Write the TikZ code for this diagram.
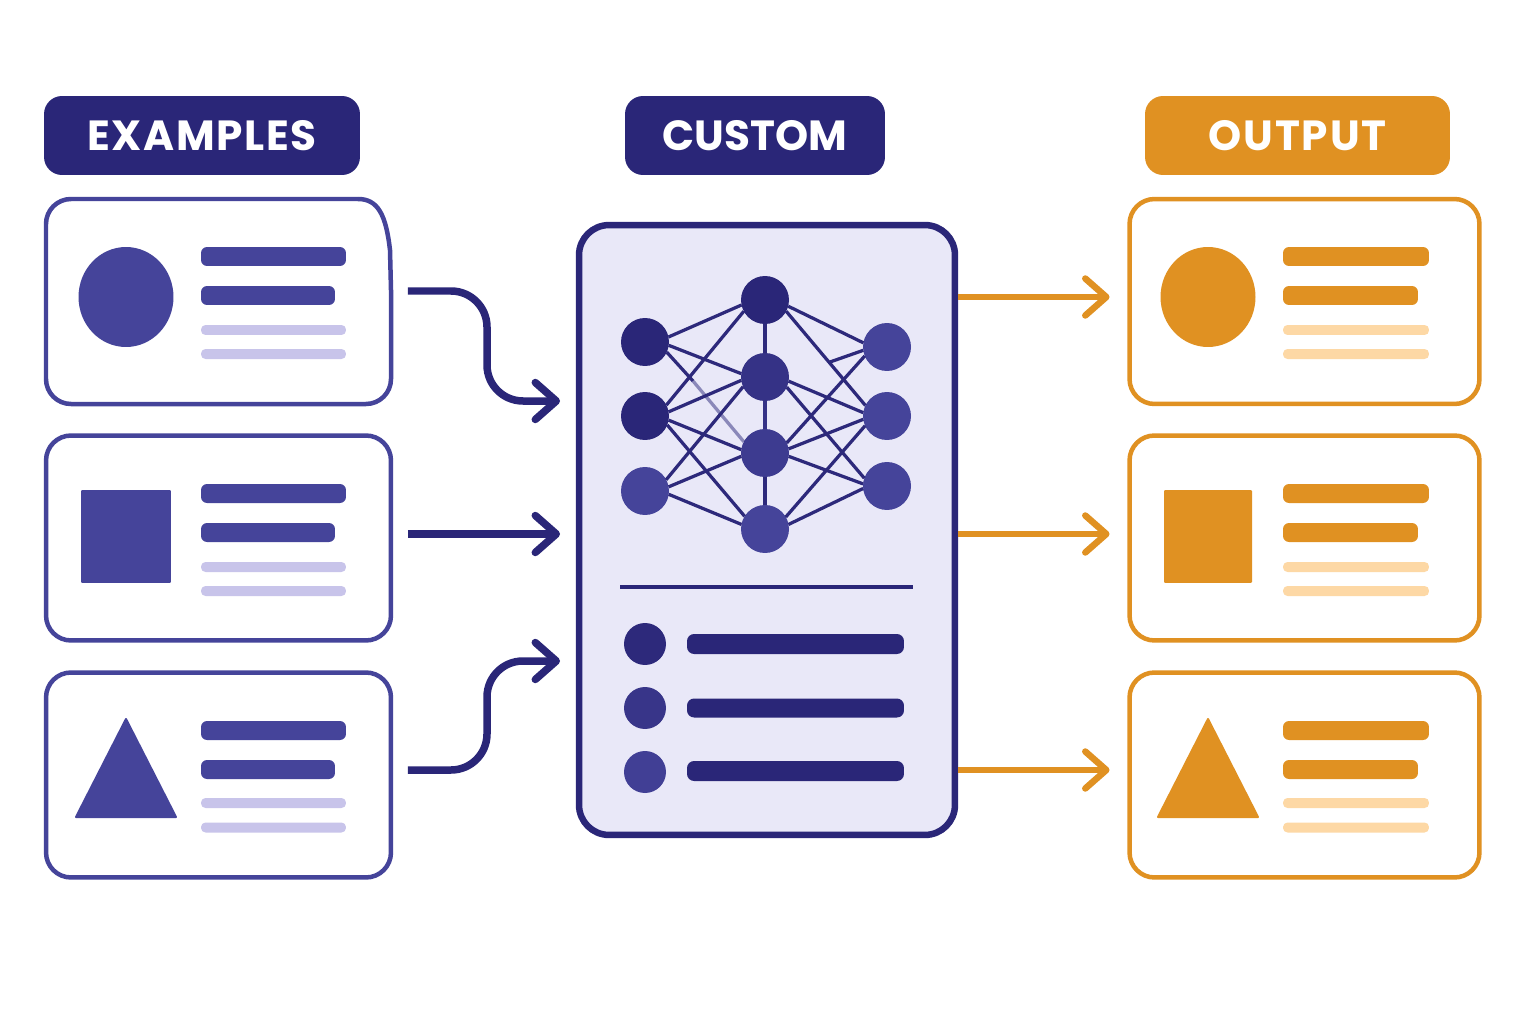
\documentclass[tikz,border=0pt]{standalone}
\usepackage{fontspec}
\setmainfont{Poppins}
\usetikzlibrary{arrows.meta,shapes.geometric}
\definecolor{navy}{HTML}{2A2678}
\definecolor{indigo}{HTML}{45449A}
\definecolor{lilac}{HTML}{C8C4EA}
\definecolor{amber}{HTML}{E09122}
\definecolor{peach}{HTML}{FDD8A5}
\definecolor{panelbg}{HTML}{E9E8F8}
\begin{document}
\begin{tikzpicture}[
        x=0.02cm, y=-0.02cm,
        pill/.style={
            rectangle,
            fill=#1,
            rounded corners=0.36cm,
            minimum height=1.58cm,
            inner sep=0pt,
            text=white,
            font=\fontsize{24}{24}\selectfont\bfseries
        },
        card/.style={
            rectangle,
            draw=#1,
            fill=white,
            line width=0.09cm,
            rounded corners=0.5cm,
            minimum height=4.1cm,
            inner sep=0pt,
            outer sep=0pt
        },
        bar/.style={
            rectangle,
            fill=#1,
            rounded corners=0.12cm,
            minimum height=0.38cm,
            inner sep=0pt
        },
        thinbar/.style={
            rectangle,
            fill=#1,
            rounded corners=0.09cm,
            minimum height=0.2cm,
            inner sep=0pt
        },
        blob/.style={
            ellipse,
            fill=#1,
            minimum width=1.9cm,
            minimum height=2cm,
            inner sep=0pt
        },
        block/.style={
            rectangle,
            fill=#1,
            rounded corners=0.02cm,
            minimum width=1.8cm,
            minimum height=1.86cm,
            inner sep=0pt
        },
        neuron/.style={
            circle,
            fill=#1,
            minimum size=0.96cm,
            inner sep=0pt,
            outer sep=0pt
        },
        dot/.style={
            circle,
            fill=#1,
            minimum size=0.84cm,
            inner sep=0pt
        },
        link/.style={
            draw=navy!90!indigo,
            line width=0.065cm
        },
        flow/.style={
            draw=#1,
            line width=0.15cm,
            line join=round,
            rounded corners=0.72cm,
            -{Straight Barb[round,length=0.42cm,width=0.74cm]}
        }
    ]

    \useasboundingbox (0,0) rectangle (1536,1024);
    \fill[white] (0,0) rectangle (1536,1024);

    % headers
    \node[pill=navy, minimum width=6.32cm] (hExamples) at (202,135.5) {\addfontfeature{LetterSpace=4}EXAMPLES};
    \node[pill=navy, minimum width=5.2cm] (hCustom) at (755,135.5) {CUSTOM};
    \node[pill=amber, minimum width=6.1cm] (hOutput) at (1297.5,135.5) {\addfontfeature{LetterSpace=4.5}OUTPUT};

    % example cards
    \node[card=indigo, draw=none, minimum width=6.9cm] (exA) at (218.5,301.5) {};
    \draw[indigo, line width=0.09cm, rounded corners=0.5cm]
        (358,199) -- (46,199) -- (46,404) -- (391,404) -- (391,290);
    \draw[indigo, line width=0.09cm] (358,199) .. controls (378,199) and (386,215) .. (390,250) -- (391,290);
    \node[card=indigo, minimum width=6.9cm] (exB) at (218.5,538) {};
    \node[card=indigo, minimum width=6.9cm] (exC) at (218.5,775) {};

    \node[blob=indigo] (iconA) at (126,297) {};
    \node[block=indigo] (iconB) at (126,536.5) {};
    \fill[indigo, draw=indigo, line width=0.04cm, line join=round] (126,719) -- (176,817) -- (76,817) -- cycle;

    \node[bar=indigo, minimum width=2.9cm] (exA1) at (273.5,256.5) {};
    \node[bar=indigo, minimum width=2.68cm] (exA2) at (268,295.5) {};
    \node[thinbar=lilac, minimum width=2.9cm] (exA3) at (273.5,330) {};
    \node[thinbar=lilac, minimum width=2.9cm] (exA4) at (273.5,354) {};
    \node[bar=indigo, minimum width=2.9cm] (exB1) at (273.5,493.5) {};
    \node[bar=indigo, minimum width=2.68cm] (exB2) at (268,532.5) {};
    \node[thinbar=lilac, minimum width=2.9cm] (exB3) at (273.5,567) {};
    \node[thinbar=lilac, minimum width=2.9cm] (exB4) at (273.5,591) {};
    \node[bar=indigo, minimum width=2.9cm] (exC1) at (273.5,730.5) {};
    \node[bar=indigo, minimum width=2.68cm] (exC2) at (268,769.5) {};
    \node[thinbar=lilac, minimum width=2.9cm] (exC3) at (273.5,803) {};
    \node[thinbar=lilac, minimum width=2.9cm] (exC4) at (273.5,827.5) {};

    % output cards
    \node[card=amber, minimum width=7cm] (outA) at (1304.5,301.5) {};
    \node[card=amber, minimum width=7cm] (outB) at (1304.5,538) {};
    \node[card=amber, minimum width=7cm] (outC) at (1304.5,775) {};

    \node[blob=amber] (iconD) at (1208,297) {};
    \node[block=amber, minimum width=1.76cm] (iconE) at (1208,536.5) {};
    \fill[amber, draw=amber, line width=0.04cm, line join=round] (1208,719) -- (1258,817) -- (1158,817) -- cycle;

    \node[bar=amber, minimum width=2.92cm] (outA1) at (1356,256.5) {};
    \node[bar=amber, minimum width=2.7cm] (outA2) at (1350.5,295.5) {};
    \node[thinbar=peach, minimum width=2.92cm] (outA3) at (1356,330) {};
    \node[thinbar=peach, minimum width=2.92cm] (outA4) at (1356,354) {};
    \node[bar=amber, minimum width=2.92cm] (outB1) at (1356,493.5) {};
    \node[bar=amber, minimum width=2.7cm] (outB2) at (1350.5,532.5) {};
    \node[thinbar=peach, minimum width=2.92cm] (outB3) at (1356,567) {};
    \node[thinbar=peach, minimum width=2.92cm] (outB4) at (1356,591) {};
    \node[bar=amber, minimum width=2.92cm] (outC1) at (1356,730.5) {};
    \node[bar=amber, minimum width=2.7cm] (outC2) at (1350.5,769.5) {};
    \node[thinbar=peach, minimum width=2.92cm] (outC3) at (1356,803) {};
    \node[thinbar=peach, minimum width=2.92cm] (outC4) at (1356,827.5) {};

    % centre panel
    \node[rectangle, draw=navy, fill=panelbg, line width=0.13cm, rounded corners=0.6cm,
        minimum width=7.52cm, minimum height=12.2cm, inner sep=0pt, outer sep=0pt] (panel) at (767,530) {};

    % network nodes
    \node[neuron=navy] (l1) at (645,342) {};
    \node[neuron=navy] (l2) at (645,416) {};
    \node[neuron=indigo] (l3) at (645,491) {};
    \node[neuron=navy] (m1) at (765,300) {};
    \node[neuron=navy!60!indigo] (m2) at (765,377) {};
    \node[neuron=navy!30!indigo] (m3) at (765,453) {};
    \node[neuron=indigo] (m4) at (765,529) {};
    \node[neuron=indigo] (r1) at (887,347) {};
    \node[neuron=indigo] (r2) at (887,416) {};
    \node[neuron=indigo] (r3) at (887,486) {};

    % network lines
    \coordinate (fade) at (693,381);
    \coordinate (stub) at (830,362);
    \draw[link] (l1.12) -- (m1.192);
    \draw[link] (l1.-8) -- (m2.172);
    \draw[link] (l1.-25) -- (fade);
    \draw[link, draw opacity=0.5] (fade) -- (m3.152);
    \draw[link] (l2.27) -- (m1.208);
    \draw[link] (l2.10) -- (m2.188);
    \draw[link] (l2.-10) -- (m3.172);
    \draw[link] (l2.-22) -- (m4.148);
    \draw[link] (l3.28) -- (m2.204);
    \draw[link] (l3.10) -- (m3.188);
    \draw[link] (l3.-8) -- (m4.169);
    \draw[link] (m1) -- (m2);
    \draw[link, draw=navy!60!indigo] (m2) -- (m3);
    \draw[link] (m3) -- (m4);
    \draw[link] (m1.-15) -- (r1.170);
    \draw[link] (m1.-28) -- (r2.154);
    \draw[link] (stub) -- (r1.188);
    \draw[link] (m2.-10) -- (r2.172);
    \draw[link] (m2.-25) -- (r3.161);
    \draw[link] (m3.25) -- (r1.202);
    \draw[link] (m3.10) -- (r2.188);
    \draw[link] (m3.-8) -- (r3.175);
    \draw[link] (m4.30) -- (r2.204);
    \draw[link] (m4.11) -- (r3.186);

    \node[rectangle, fill=navy, minimum width=5.86cm, minimum height=0.08cm, inner sep=0pt] (rule) at (766.5,587) {};

    % list in panel
    \node[dot=navy!90!indigo] (d1) at (645,644) {};
    \node[dot=navy!50!indigo] (d2) at (645,708) {};
    \node[dot=navy!15!indigo] (d3) at (645,772) {};
    \node[bar=navy, minimum width=4.34cm, rounded corners=0.14cm, minimum height=0.4cm] (b1) at (795.5,644) {};
    \node[bar=navy, minimum width=4.34cm, rounded corners=0.14cm, minimum height=0.38cm] (b2) at (795.5,708) {};
    \node[bar=navy, minimum width=4.34cm, rounded corners=0.14cm, minimum height=0.4cm] (b3) at (795.5,771) {};

    % arrows in
    \draw[flow=navy] ([shift={(17,-10.5)}]exA.east) -- (487,291) -- (487,401) -- ([shift={(-19,-129)}]panel.west);
    \draw[flow=navy] ([shift={(17,-4)}]exB.east) -- ([shift={(-19,4)}]panel.west);
    \draw[flow=navy] ([shift={(17,-5)}]exC.east) -- (487,770) -- (487,661) -- ([shift={(-19,131)}]panel.west);

    % arrows out
    \draw[flow=amber, line width=0.13cm] ([shift={(3,-233)}]panel.east) -- ([shift={(-20,-4.5)}]outA.west);
    \draw[flow=amber, line width=0.13cm] ([shift={(3,4)}]panel.east) -- ([shift={(-20,-4)}]outB.west);
    \draw[flow=amber, line width=0.13cm] ([shift={(3,240)}]panel.east) -- ([shift={(-20,-5)}]outC.west);
\end{tikzpicture}
\end{document}
